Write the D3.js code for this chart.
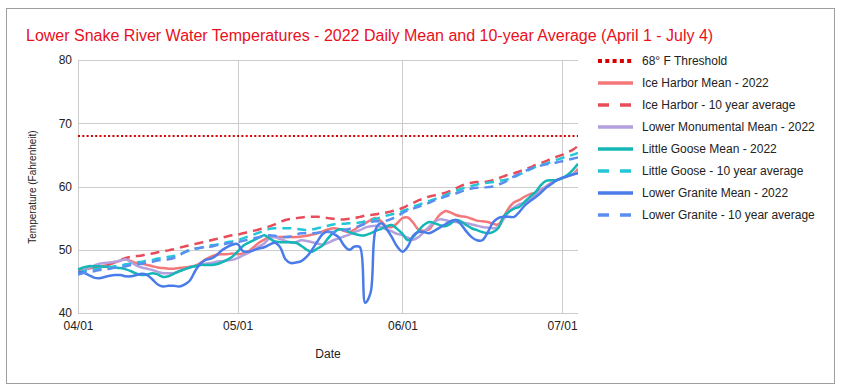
<!DOCTYPE html>
<html>
<head>
<meta charset="utf-8">
<script src="https://cdn.jsdelivr.net/npm/d3@7/dist/d3.min.js"></script>
<style>
  body { margin: 0; background: #fff; }
  text { font-family: "Liberation Sans", Arial, sans-serif; }
</style>
</head>
<body>
<svg id="chart" width="843" height="389"></svg>
<script>
// ---------- DATA ----------
const startDate = new Date(2022, 3, 1);
const endDate = new Date(2022, 6, 4);
const dates = d3.timeDay.range(startDate, d3.timeDay.offset(endDate, 1)); // Apr 1 .. Jul 4 (95 days)

const xTickLabels = ["04/01", "05/01", "06/01", "07/01"];
const yTickValues = [40, 50, 60, 70, 80];
const thresholdValue = 68;

const seriesNames = [
  "68° F Threshold",
  "Ice Harbor Mean - 2022",
  "Ice Harbor - 10 year average",
  "Lower Monumental Mean - 2022",
  "Little Goose Mean - 2022",
  "Little Goose - 10 year average",
  "Lower Granite Mean - 2022",
  "Lower Granite - 10 year average"
];

const iceHarborMean = [46.6,46.8,47.0,47.2,47.3,47.5,47.7,48.0,48.3,48.5,
48.2,47.9,47.8,47.6,47.4,47.2,47.1,47.0,47.0,47.1,
47.2,47.3,47.5,47.9,48.5,48.9,49.2,49.3,49.3,49.4,
49.3,49.4,49.7,50.4,51.1,51.6,52.0,52.0,52.0,52.0,
52.0,52.0,52.1,52.2,52.4,52.6,52.9,53.2,53.4,53.3,
53.0,52.8,53.2,53.8,54.2,54.7,55.0,54.5,53.7,53.6,
54.2,55.0,55.1,54.3,53.2,53.0,53.2,54.4,55.5,56.1,
55.9,55.5,55.3,55.2,54.9,54.6,54.5,54.4,54.1,54.0,
55.2,56.6,57.5,57.9,58.4,58.8,59.0,59.5,60.0,60.6,
61.0,61.3,61.6,61.9,62.8];

const iceHarborAvg = [46.5,46.7,46.9,47.1,47.3,47.5,47.8,48.1,48.4,48.7,
48.9,49.0,49.1,49.3,49.4,49.6,49.8,49.9,50.1,50.3,
50.5,50.7,50.9,51.1,51.3,51.5,51.7,51.9,52.1,52.3,
52.4,52.6,52.8,53.0,53.2,53.5,53.7,54.0,54.4,54.7,
54.9,55.0,55.1,55.2,55.2,55.2,55.1,55.0,54.9,54.8,
54.8,54.9,55.0,55.2,55.4,55.5,55.6,55.8,55.9,56.1,
56.3,56.6,57.0,57.4,57.8,58.1,58.4,58.6,58.8,59.0,
59.3,59.7,60.1,60.4,60.6,60.7,60.7,60.8,61.0,61.3,
61.6,61.9,62.1,62.4,62.7,63.0,63.4,63.7,64.0,64.4,
64.7,65.0,65.4,65.8,66.4];

const lowerMonumentalMean = [46.3,46.7,47.1,47.5,47.8,47.9,48.0,48.1,48.3,48.5,
48.0,47.5,47.2,47.0,46.8,46.5,46.3,46.3,46.3,46.6,
46.9,47.2,47.4,47.6,47.8,47.9,48.1,48.2,48.3,48.4,
48.7,49.1,49.5,50.0,50.5,51.0,51.8,52.0,51.7,51.4,
51.1,51.2,51.5,51.4,51.2,51.0,50.8,51.1,51.5,51.8,
52.1,52.4,52.8,53.1,53.5,53.7,53.8,53.6,53.2,52.9,
52.5,52.3,51.9,51.6,52.0,52.8,53.6,54.4,54.8,54.7,
54.5,54.4,54.3,54.2,54.0,53.8,53.6,53.5,53.4,53.6,
54.8,56.0,56.7,57.2,57.5,58.2,58.7,59.4,60.0,60.5,
61.0,61.3,61.6,61.9,62.3];

const littleGooseMean = [46.9,47.2,47.4,47.4,47.4,47.3,47.3,47.2,47.1,46.9,
46.6,46.2,46.0,46.1,46.3,46.1,45.7,45.8,46.2,46.6,
46.9,47.2,47.4,47.6,47.6,47.6,47.7,48.0,48.4,48.9,
49.7,50.6,51.1,51.5,51.9,52.3,51.8,51.3,51.2,51.2,
51.2,51.1,50.6,50.0,49.7,50.2,50.7,51.8,52.7,53.2,
53.2,52.8,52.5,52.3,52.3,52.6,53.0,53.3,53.7,53.9,
53.3,52.5,51.5,52.0,53.0,53.9,54.4,54.2,53.9,53.7,
54.1,54.7,54.5,53.9,53.4,53.1,52.8,52.6,52.8,53.4,
55.2,56.0,56.5,56.8,57.6,58.4,59.1,60.2,60.9,61.0,
61.0,61.3,61.8,62.6,63.6];

const littleGooseAvg = [46.4,46.6,46.8,46.9,47.0,47.1,47.2,47.4,47.5,47.7,
47.8,48.0,48.1,48.3,48.4,48.6,48.7,48.9,49.0,49.3,
49.6,49.9,50.1,50.3,50.5,50.7,50.8,51.0,51.2,51.3,
51.5,51.8,52.1,52.4,52.7,53.0,53.3,53.4,53.4,53.4,
53.4,53.3,53.2,53.1,53.2,53.4,53.6,53.8,54.0,54.1,
54.1,54.2,54.2,54.3,54.5,54.7,54.9,55.1,55.4,55.6,
55.8,56.1,56.4,56.8,57.1,57.4,57.7,58.0,58.3,58.6,
59.0,59.3,59.6,59.9,60.1,60.3,60.5,60.6,60.7,60.9,
61.0,61.2,61.5,61.9,62.3,62.7,63.1,63.4,63.6,63.9,
64.2,64.5,64.8,65.0,65.3];

const lowerGraniteMean = [46.4,46.4,46.0,45.6,45.5,45.7,45.9,46.0,46.0,45.8,
45.8,46.0,46.2,46.0,45.3,44.5,44.2,44.3,44.3,44.2,
44.5,45.1,46.6,47.8,48.4,48.6,49.1,49.9,50.4,50.8,
50.9,49.8,49.7,49.9,50.2,50.4,50.8,51.1,50.4,48.5,
47.9,48.0,48.2,48.9,50.0,51.3,52.5,52.9,52.5,52.0,
50.7,50.0,50.5,50.4,41.6,43.2,53.3,54.2,53.3,52.0,
50.5,49.7,50.5,52.2,52.8,52.8,52.6,53.0,53.5,54.0,
54.5,54.7,54.0,52.9,52.0,51.5,51.5,52.7,54.3,55.0,
55.2,55.2,55.2,56.0,57.0,57.7,58.3,59.0,59.8,60.4,
61.0,61.4,61.6,61.9,62.1];

const lowerGraniteAvg = [46.1,46.3,46.5,46.6,46.8,46.9,47.0,47.2,47.3,47.4,
47.6,47.7,47.8,48.0,48.1,48.3,48.4,48.5,48.7,49.1,
49.6,50.0,50.2,50.3,50.4,50.5,50.7,50.8,51.0,51.1,
51.2,51.4,51.6,51.8,52.0,52.2,52.3,52.2,52.0,52.0,
52.1,52.4,52.6,52.6,52.6,52.7,52.8,52.8,52.8,52.9,
53.1,53.3,53.5,53.8,54.1,54.4,54.5,54.5,54.6,54.9,
55.3,55.8,56.2,56.5,56.8,57.1,57.4,57.8,58.1,58.4,
58.7,58.9,59.2,59.5,59.7,59.8,59.8,59.9,60.0,60.3,
60.6,61.1,61.6,62.0,62.4,62.8,63.1,63.3,63.5,63.7,
63.8,64.0,64.2,64.4,64.6];

// ---------- STYLE ----------
const seriesStyles = [
  { color: "#d90000", width: 2, dash: "2,2.3", legendDash: "4,3.3", legendWidth: 4 },
  { color: "#f4777a", width: 2.5, dash: null, legendDash: null, legendWidth: 3.5 },
  { color: "#e84c5a", width: 2.5, dash: "9,6", legendDash: "11,11", legendWidth: 3.5 },
  { color: "#b3a0de", width: 2.5, dash: null, legendDash: null, legendWidth: 3.5 },
  { color: "#14b6b6", width: 2.5, dash: null, legendDash: null, legendWidth: 3.5 },
  { color: "#22c6d6", width: 2.5, dash: "9,6", legendDash: "11,11", legendWidth: 3.5 },
  { color: "#4a7ce9", width: 2.5, dash: null, legendDash: null, legendWidth: 3.5 },
  { color: "#5c8ef2", width: 2.5, dash: "9,6", legendDash: "11,11", legendWidth: 3.5 }
];

const seriesValues = [null, iceHarborMean, iceHarborAvg, lowerMonumentalMean,
  littleGooseMean, littleGooseAvg, lowerGraniteMean, lowerGraniteAvg];

// ---------- CHART ----------
const svg = d3.select("#chart");
const plot = { left: 78, right: 578, top: 60, bottom: 313 };

// outer border
svg.append("rect").attr("x", 6.5).attr("y", 8.5).attr("width", 828).attr("height", 375)
  .attr("fill", "#fff").attr("stroke", "#9e9e9e").attr("stroke-width", 1);

const x = d3.scaleTime().domain([startDate, endDate]).range([plot.left, plot.right]);
const y = d3.scaleLinear().domain([40, 80]).range([plot.bottom, plot.top]);

const parseTick = d3.timeParse("%m/%d/%Y");
const xTickDates = xTickLabels.map(s => parseTick(s + "/2022"));

// gridlines
const grid = svg.append("g");
grid.selectAll("line.h").data(yTickValues).join("line")
  .attr("x1", plot.left).attr("x2", plot.right)
  .attr("y1", d => Math.round(y(d)) + 0.5).attr("y2", d => Math.round(y(d)) + 0.5)
  .attr("stroke", "#cccccc").attr("stroke-width", 1);
grid.selectAll("line.v").data(xTickDates).join("line")
  .attr("x1", d => Math.round(x(d)) + 0.5).attr("x2", d => Math.round(x(d)) + 0.5)
  .attr("y1", plot.top).attr("y2", plot.bottom)
  .attr("stroke", "#cccccc").attr("stroke-width", 1);

// axes (labels only, via d3 axes)
const yAxis = d3.axisLeft(y).tickValues(yTickValues).tickSize(0).tickPadding(6);
const gy = svg.append("g").attr("transform", `translate(${plot.left},0)`).call(yAxis);
gy.select(".domain").remove();
gy.selectAll("text").attr("font-size", 12).attr("fill", "#222")
  .attr("font-family", "Liberation Sans, Arial, sans-serif");

const xAxis = d3.axisBottom(x).tickValues(xTickDates).tickFormat(d3.timeFormat("%m/%d")).tickSize(0).tickPadding(8);
const gx = svg.append("g").attr("transform", `translate(0,${plot.bottom})`).call(xAxis);
gx.select(".domain").remove();
gx.selectAll("text").attr("font-size", 12).attr("fill", "#222")
  .attr("font-family", "Liberation Sans, Arial, sans-serif");

// title
svg.append("text").attr("x", 26).attr("y", 41)
  .attr("font-size", 16).attr("fill", "#e8101c").text("Lower Snake River Water Temperatures - 2022 Daily Mean and 10-year Average (April 1 - July 4)");

// axis titles
svg.append("text").attr("transform", "translate(36,187) rotate(-90)")
  .attr("text-anchor", "middle").attr("font-size", 10).attr("fill", "#222")
  .text("Temperature (Fahrenheit)");
svg.append("text").attr("x", 328).attr("y", 358).attr("text-anchor", "middle")
  .attr("font-size", 12).attr("fill", "#222").text("Date");

// clip
svg.append("clipPath").attr("id", "clip").append("rect")
  .attr("x", plot.left).attr("y", plot.top - 5).attr("width", plot.right - plot.left).attr("height", plot.bottom - plot.top + 10);

const lines = svg.append("g").attr("clip-path", "url(#clip)");

// threshold line
const ty = Math.round(y(thresholdValue));
lines.append("line")
  .attr("x1", x(startDate)).attr("x2", x(endDate))
  .attr("y1", ty).attr("y2", ty)
  .attr("stroke", seriesStyles[0].color).attr("stroke-width", seriesStyles[0].width)
  .attr("stroke-dasharray", seriesStyles[0].dash);

const lineGen = d3.line()
  .x((d, i) => x(dates[i]))
  .y(d => y(d))
  .curve(d3.curveCatmullRom.alpha(0.5));

seriesValues.forEach((vals, k) => {
  if (!vals) return;
  const st = seriesStyles[k];
  lines.append("path").datum(vals)
    .attr("d", lineGen)
    .attr("fill", "none")
    .attr("stroke", st.color)
    .attr("stroke-width", st.width)
    .attr("stroke-linejoin", "round")
    .attr("stroke-dasharray", st.dash);
});

// legend
const legend = svg.append("g");
seriesNames.forEach((name, k) => {
  const st = seriesStyles[k];
  const ly = 61 + k * 22;
  legend.append("line").attr("x1", 598).attr("x2", 633).attr("y1", ly).attr("y2", ly)
    .attr("stroke", st.color).attr("stroke-width", st.legendWidth)
    .attr("stroke-dasharray", st.legendDash);
  legend.append("text").attr("x", 642).attr("y", ly + 4).attr("font-size", 12)
    .attr("fill", "#222").text(name);
});
</script>
</body>
</html>
